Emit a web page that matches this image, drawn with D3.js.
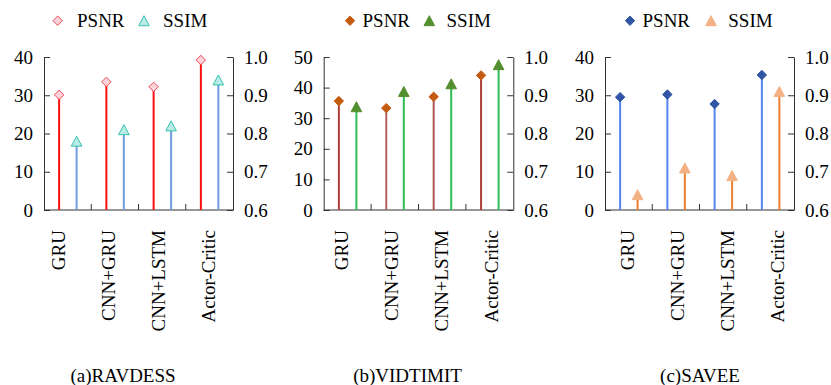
<!DOCTYPE html>
<html>
<head>
<meta charset="utf-8">
<script src="https://cdn.jsdelivr.net/npm/d3@7"></script>
<style>
  body { margin: 0; background: #fff; }
  svg { display: block; }
  svg text { font-family: "Liberation Serif", "Times New Roman", Times, serif; }
</style>
</head>
<body>
<svg id="chart" width="831" height="385"></svg>
<script>
// === DATA ===
const categories = ["GRU", "CNN+GRU", "CNN+LSTM", "Actor-Critic"];
const datasets = ["(a)RAVDESS", "(b)VIDTIMIT", "(c)SAVEE"];
const seriesNames = ["PSNR", "SSIM"];

const ravdessPSNR = [30.1, 33.5, 32.2, 39.2];
const ravdessSSIM = [0.78, 0.81, 0.82, 0.94];
const vidtimitPSNR = [35.6, 33.3, 37.0, 44.0];
const vidtimitSSIM = [0.87, 0.91, 0.93, 0.98];
const saveePSNR = [29.5, 30.2, 27.7, 35.3];
const saveeSSIM = [0.64, 0.71, 0.69, 0.91];

const leftTicks = [[0, 10, 20, 30, 40], [0, 10, 20, 30, 40, 50], [0, 10, 20, 30, 40]];
const rightTicks = [0.6, 0.7, 0.8, 0.9, 1.0];

// === LAYOUT / STYLE PER PANEL ===
const yTop = 57, yBottom = 210;
const panels = [
  {
    x0: 44, x1: 233, labelOff: 14, titleX: 123,
    psnr: ravdessPSNR, ssim: ravdessSSIM, leftMax: 40,
    legend: { m1: 57.7, t1: 77, m2: 144, t2: 163 },
    psnrFill: "#fbd3d8", psnrStroke: "#ea4a5a", psnrStem: ["#ff1010", "#ff1010", "#ff1010", "#ff1010"],
    ssimFill: "#b9ece4", ssimStroke: "#36c2b0", ssimStem: "#6e9de0"
  },
  {
    x0: 323.7, x1: 513.3, labelOff: 18, titleX: 407.5,
    psnr: vidtimitPSNR, ssim: vidtimitSSIM, leftMax: 50,
    legend: { m1: 350, t1: 362.5, m2: 429.3, t2: 446.5 },
    psnrFill: "#c55a11", psnrStroke: "#c55a11", psnrStem: ["#ad3c3a", "#b0625e", "#ad5652", "#ad3c3a"],
    ssimFill: "#548f2f", ssimStroke: "#548f2f", ssimStem: "#2cbd55"
  },
  {
    x0: 605, x1: 794, labelOff: 22, titleX: 700,
    psnr: saveePSNR, ssim: saveeSSIM, leftMax: 40,
    legend: { m1: 630, t1: 642.5, m2: 711, t2: 728.3 },
    psnrFill: "#2f55a4", psnrStroke: "#2f55a4", psnrStem: ["#5584f0", "#5584f0", "#5584f0", "#5584f0"],
    ssimFill: "#f4b183", ssimStroke: "#f4b183", ssimStem: "#ed7d31"
  }
];

const svg = d3.select("#chart");
const axisColor = "#333";
const fontSize = 19;
const serif = "'Liberation Serif', 'Times New Roman', Times, serif";

function diamondPath(r) {
  return `M0,${-r}L${r},0L0,${r}L${-r},0Z`;
}
function trianglePath(s, h) {
  return `M0,${-h}L${s},${h}L${-s},${h}Z`;
}

panels.forEach((p, pi) => {
  const g = svg.append("g");

  const x = d3.scaleBand().domain(categories).range([p.x0, p.x1]).padding(0);
  const xLabel = d3.scalePoint().domain(categories).range([p.x0 + p.labelOff, p.x0 + p.labelOff + 150]);
  const yL = d3.scaleLinear().domain([0, p.leftMax]).range([yBottom, yTop]);
  const yR = d3.scaleLinear().domain([0.6, 1.0]).range([yBottom, yTop]);
  const bw = x.bandwidth();

  // left axis, ticks pointing inward
  const axL = g.append("g")
    .attr("transform", `translate(${p.x0},0)`)
    .call(d3.axisLeft(yL).tickValues(leftTicks[pi]).tickSizeInner(-6).tickSizeOuter(0).tickPadding(11));
  // right axis
  const axR = g.append("g")
    .attr("transform", `translate(${p.x1},0)`)
    .call(d3.axisRight(yR).tickValues(rightTicks).tickFormat(d3.format(".1f"))
      .tickSizeInner(-6).tickSizeOuter(0).tickPadding(11));
  [axL, axR].forEach(ax => {
    ax.attr("font-family", serif).attr("font-size", fontSize);
    ax.select(".domain").attr("stroke", axisColor);
    ax.selectAll(".tick line").attr("stroke", axisColor);
    ax.selectAll(".tick text").attr("fill", "#000");
  });

  // bottom axis line + inward ticks at band boundaries
  g.append("line")
    .attr("x1", p.x0).attr("x2", p.x1)
    .attr("y1", yBottom).attr("y2", yBottom)
    .attr("stroke", axisColor);
  g.selectAll(".xtick")
    .data(categories.slice(1))
    .join("line")
    .attr("x1", d => x(d)).attr("x2", d => x(d))
    .attr("y1", yBottom).attr("y2", yBottom - 6)
    .attr("stroke", axisColor);

  // stems
  const psnrX = d => x(d) + bw * 0.32;
  const ssimX = d => x(d) + bw * 0.69;

  g.selectAll(".psnrStem")
    .data(categories)
    .join("line")
    .attr("x1", psnrX).attr("x2", psnrX)
    .attr("y1", yBottom).attr("y2", (d, i) => yL(p.psnr[i]))
    .attr("stroke", (d, i) => p.psnrStem[i])
    .attr("stroke-width", 2);
  g.selectAll(".ssimStem")
    .data(categories)
    .join("line")
    .attr("x1", ssimX).attr("x2", ssimX)
    .attr("y1", yBottom).attr("y2", (d, i) => yR(p.ssim[i]))
    .attr("stroke", p.ssimStem)
    .attr("stroke-width", 2);

  // markers
  g.selectAll(".psnrMark")
    .data(categories)
    .join("path")
    .attr("d", diamondPath(4.7))
    .attr("transform", (d, i) => `translate(${psnrX(d)},${yL(p.psnr[i])})`)
    .attr("fill", p.psnrFill)
    .attr("stroke", p.psnrStroke)
    .attr("stroke-width", 1);
  g.selectAll(".ssimMark")
    .data(categories)
    .join("path")
    .attr("d", trianglePath(5.3, 5))
    .attr("transform", (d, i) => `translate(${ssimX(d)},${yR(p.ssim[i])})`)
    .attr("fill", p.ssimFill)
    .attr("stroke", p.ssimStroke)
    .attr("stroke-width", 1);

  // category labels (rotated)
  g.selectAll(".catLabel")
    .data(categories)
    .join("text")
    .attr("transform", d => `translate(${xLabel(d)},230) rotate(-90)`)
    .attr("dy", "0.35em")
    .attr("text-anchor", "end")
    .attr("font-family", serif)
    .attr("font-size", fontSize)
    .text(d => d);

  // legend
  const ly = 20.7;
  g.append("path")
    .attr("d", diamondPath(4.7))
    .attr("transform", `translate(${p.legend.m1},${ly})`)
    .attr("fill", p.psnrFill).attr("stroke", p.psnrStroke);
  g.append("text")
    .attr("x", p.legend.t1).attr("y", 27)
    .attr("font-family", serif).attr("font-size", fontSize)
    .text(seriesNames[0]);
  g.append("path")
    .attr("d", trianglePath(5.3, 5))
    .attr("transform", `translate(${p.legend.m2},${ly})`)
    .attr("fill", p.ssimFill).attr("stroke", p.ssimStroke);
  g.append("text")
    .attr("x", p.legend.t2).attr("y", 27)
    .attr("font-family", serif).attr("font-size", fontSize)
    .text(seriesNames[1]);

  // subtitle
  g.append("text")
    .attr("x", p.titleX).attr("y", 382)
    .attr("text-anchor", "middle")
    .attr("font-family", serif).attr("font-size", fontSize)
    .text(datasets[pi]);
});
</script>
</body>
</html>
